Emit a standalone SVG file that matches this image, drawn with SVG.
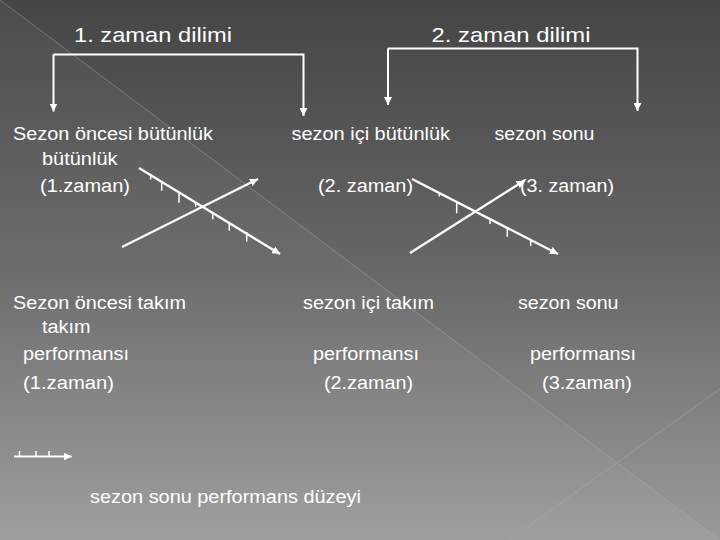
<svg xmlns="http://www.w3.org/2000/svg" width="720" height="540" viewBox="0 0 720 540">
  <defs>
    <linearGradient id="bg" x1="0" y1="0" x2="0" y2="1">
      <stop offset="0" stop-color="#454545"/>
      <stop offset="0.5" stop-color="#676767"/>
      <stop offset="1" stop-color="#9b9b9b"/>
    </linearGradient>
    <marker id="arr" viewBox="0 0 10 10" refX="10" refY="5" markerWidth="8" markerHeight="8" markerUnits="userSpaceOnUse" orient="auto">
      <path d="M0,0 L10,5 L0,10 Z" fill="#ffffff"/>
    </marker>
    <style>
      text { font-family: "Liberation Sans", Arial, sans-serif; fill: #ffffff; }
      .t { font-size: 21px; }
      .b { font-size: 18px; }
      .ln { stroke: #ffffff; stroke-width: 2; fill: none; }
      .ax { stroke: #ffffff; stroke-width: 2.3; fill: none; }
      .tk { stroke: #ffffff; stroke-width: 1.5; fill: none; }
      .bgl { stroke: #b0b0b0; stroke-opacity: 0.45; stroke-width: 1; fill: none; }
    </style>
  </defs>

  <g id="background">
    <rect x="0" y="0" width="720" height="540" fill="url(#bg)"/>
    <polygon points="0,0 720,540 0,540" fill="#ffffff" fill-opacity="0.04"/>
    <line class="bgl" x1="0" y1="0" x2="720" y2="540"/>
    <line class="bgl" x1="720" y1="389" x2="509" y2="540"/>
  </g>

  <g id="title1"><text class="t" x="74" y="42" textLength="158" lengthAdjust="spacingAndGlyphs">1. zaman dilimi</text></g>
  <g id="title2"><text class="t" x="431.5" y="42" textLength="159" lengthAdjust="spacingAndGlyphs">2. zaman dilimi</text></g>

  <g id="pre-cohesion">
    <text class="b" x="13" y="140" textLength="200" lengthAdjust="spacingAndGlyphs">Sezon öncesi bütünlük</text>
    <text class="b" x="42" y="165" textLength="75.5" lengthAdjust="spacingAndGlyphs">bütünlük</text>
    <text class="b" x="40" y="191.5" textLength="90" lengthAdjust="spacingAndGlyphs">(1.zaman)</text>
  </g>
  <g id="mid-cohesion">
    <text class="b" x="291.5" y="140" textLength="158.5" lengthAdjust="spacingAndGlyphs">sezon içi bütünlük</text>
    <text class="b" x="318" y="191.5" textLength="95" lengthAdjust="spacingAndGlyphs">(2. zaman)</text>
  </g>
  <g id="end-cohesion">
    <text class="b" x="494.5" y="140" textLength="100" lengthAdjust="spacingAndGlyphs">sezon sonu</text>
    <text class="b" x="520" y="191.5" textLength="94" lengthAdjust="spacingAndGlyphs">(3. zaman)</text>
  </g>

  <g id="pre-performance">
    <text class="b" x="13" y="308.5" textLength="173" lengthAdjust="spacingAndGlyphs">Sezon öncesi takım</text>
    <text class="b" x="42" y="333" textLength="48.5" lengthAdjust="spacingAndGlyphs">takım</text>
    <text class="b" x="23" y="360" textLength="106" lengthAdjust="spacingAndGlyphs">performansı</text>
    <text class="b" x="23" y="389" textLength="91" lengthAdjust="spacingAndGlyphs">(1.zaman)</text>
  </g>
  <g id="mid-performance">
    <text class="b" x="303" y="308.5" textLength="131" lengthAdjust="spacingAndGlyphs">sezon içi takım</text>
    <text class="b" x="313" y="360" textLength="106" lengthAdjust="spacingAndGlyphs">performansı</text>
    <text class="b" x="324" y="389" textLength="89" lengthAdjust="spacingAndGlyphs">(2.zaman)</text>
  </g>
  <g id="end-performance">
    <text class="b" x="518" y="308.5" textLength="100.5" lengthAdjust="spacingAndGlyphs">sezon sonu</text>
    <text class="b" x="530" y="360" textLength="106" lengthAdjust="spacingAndGlyphs">performansı</text>
    <text class="b" x="542" y="389" textLength="90" lengthAdjust="spacingAndGlyphs">(3.zaman)</text>
  </g>

  <g id="legend">
    <line class="ln" x1="14" y1="456.5" x2="71.5" y2="456.5" marker-end="url(#arr)"/>
    <line class="tk" x1="19.5" y1="451" x2="19.5" y2="456.5"/>
    <line class="tk" x1="36" y1="451" x2="36" y2="456.5"/>
    <line class="tk" x1="49" y1="451" x2="49" y2="456.5"/>
    <text class="b" x="90" y="503" textLength="271" lengthAdjust="spacingAndGlyphs">sezon sonu performans düzeyi</text>
  </g>

  <g id="connectors">
    <!-- bracket 1 -->
    <polyline class="ln" points="53.5,54.5 53.5,111.5" marker-end="url(#arr)"/>
    <polyline class="ln" points="53.5,54.5 303.5,54.5 303.5,116" marker-end="url(#arr)"/>
    <!-- bracket 2 -->
    <polyline class="ln" points="388,48.5 388,105" marker-end="url(#arr)"/>
    <polyline class="ln" points="388,48.5 637.5,48.5 637.5,111" marker-end="url(#arr)"/>

    <!-- cross 1 -->
    <line class="ax" x1="139" y1="168" x2="280" y2="254" marker-end="url(#arr)"/>
    <line class="ax" x1="122" y1="247" x2="258" y2="179" marker-end="url(#arr)"/>
    <line class="tk" x1="150.7" y1="175.5" x2="150.7" y2="179.5"/>
    <line class="tk" x1="161.7" y1="182.5" x2="161.7" y2="190.7"/>
    <line class="tk" x1="179" y1="192.5" x2="179" y2="202.7"/>
    <line class="tk" x1="195.7" y1="202" x2="195.7" y2="206.7"/>
    <line class="tk" x1="212.7" y1="212" x2="212.7" y2="219.3"/>
    <line class="tk" x1="229.3" y1="222" x2="229.3" y2="230.7"/>
    <line class="tk" x1="246.7" y1="232" x2="246.7" y2="241.7"/>

    <!-- cross 2 -->
    <line class="ax" x1="412" y1="179" x2="558" y2="254" marker-end="url(#arr)"/>
    <line class="ax" x1="410" y1="253" x2="524.5" y2="180.5" marker-end="url(#arr)"/>
    <line class="tk" x1="439.3" y1="192" x2="439.3" y2="196.5"/>
    <line class="tk" x1="456.7" y1="201.5" x2="456.7" y2="213.3"/>
    <line class="tk" x1="490" y1="218.5" x2="490" y2="224"/>
    <line class="tk" x1="507.3" y1="227.5" x2="507.3" y2="236.7"/>
    <line class="tk" x1="530.7" y1="239.5" x2="530.7" y2="246"/>
  </g>
</svg>
